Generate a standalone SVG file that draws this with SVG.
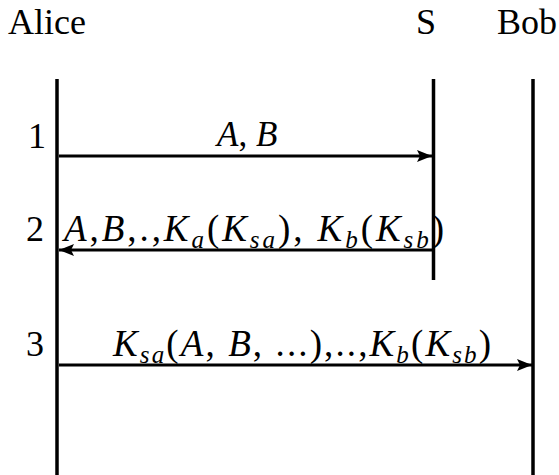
<svg xmlns="http://www.w3.org/2000/svg" width="559" height="475" viewBox="0 0 559 475">
<defs>
<marker id="ah" markerUnits="userSpaceOnUse" markerWidth="16" markerHeight="12" refX="15" refY="6" orient="auto">
<path d="M0,0 L15,6 L0,12 L3,6 Z" fill="#000"/>
</marker>
</defs>
<g id="alice">
<text x="8" y="34" font-family="Liberation Serif" font-size="36">Alice</text>
<line x1="57" y1="79" x2="57" y2="475" stroke="#000" stroke-width="3.5"/>
</g>
<g id="server">
<text x="416" y="34" font-family="Liberation Serif" font-size="36">S</text>
<line x1="433.5" y1="79" x2="433.5" y2="280" stroke="#000" stroke-width="3.5"/>
</g>
<g id="bob">
<text x="497" y="34" font-family="Liberation Serif" font-size="36">Bob</text>
<line x1="533" y1="79" x2="533" y2="475" stroke="#000" stroke-width="3.5"/>
</g>
<g id="connectors" stroke="#000" stroke-width="3" marker-end="url(#ah)">
<line x1="59" y1="156" x2="432" y2="156"/>
<line x1="432" y1="250" x2="59" y2="250"/>
<line x1="59" y1="365" x2="532" y2="365"/>
</g>
<g id="labels" font-family="Liberation Serif">
<text x="28" y="148" font-size="36">1</text>
<text x="26" y="241" font-size="36">2</text>
<text x="26" y="356" font-size="36">3</text>
<text x="217" y="146" font-size="35"><tspan font-style="italic">A</tspan>, <tspan font-style="italic">B</tspan></text>
<text x="64" y="241" font-size="37" textLength="380" lengthAdjust="spacing"><tspan font-style="italic">A</tspan>,<tspan font-style="italic">B</tspan>,.,<tspan font-style="italic">K</tspan><tspan font-style="italic" font-size="25" dy="7">a</tspan><tspan dy="-7">(</tspan><tspan font-style="italic">K</tspan><tspan font-style="italic" font-size="25" dy="7">sa</tspan><tspan dy="-7">), </tspan><tspan font-style="italic">K</tspan><tspan font-style="italic" font-size="25" dy="7">b</tspan><tspan dy="-7">(</tspan><tspan font-style="italic">K</tspan><tspan font-style="italic" font-size="25" dy="7">sb</tspan><tspan dy="-7">)</tspan></text>
<text x="113" y="356" font-size="37" textLength="378" lengthAdjust="spacing"><tspan font-style="italic">K</tspan><tspan font-style="italic" font-size="25" dy="7">sa</tspan><tspan dy="-7">(</tspan><tspan font-style="italic">A</tspan>, <tspan font-style="italic">B</tspan>, ...),..,<tspan font-style="italic">K</tspan><tspan font-style="italic" font-size="25" dy="7">b</tspan><tspan dy="-7">(</tspan><tspan font-style="italic">K</tspan><tspan font-style="italic" font-size="25" dy="7">sb</tspan><tspan dy="-7">)</tspan></text>
</g>
</svg>
